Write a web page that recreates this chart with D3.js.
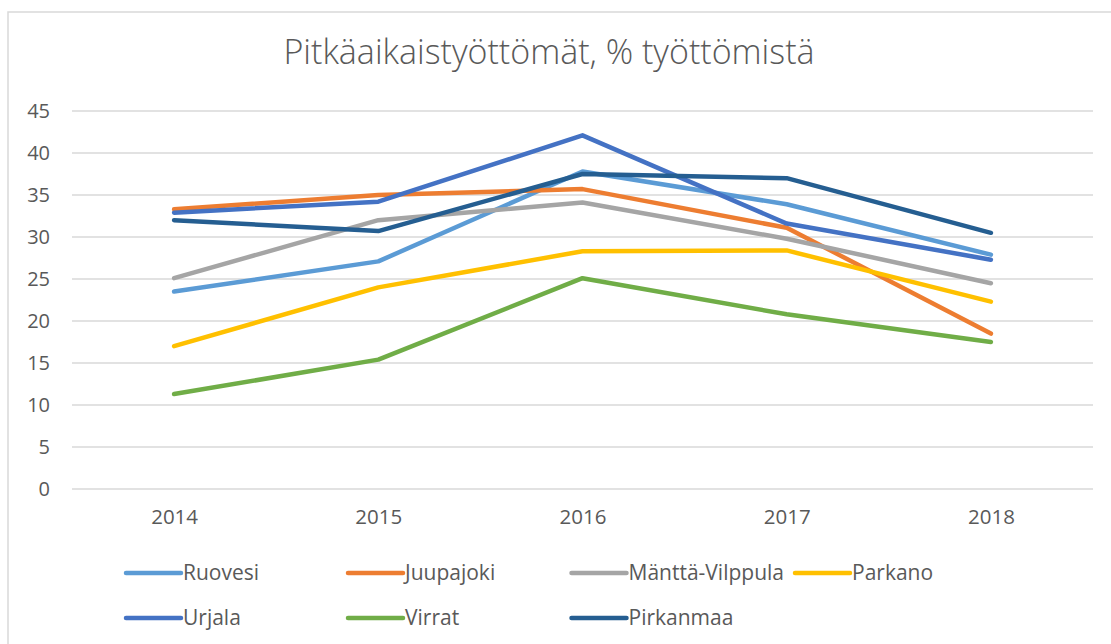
<!DOCTYPE html>
<html><head><meta charset="utf-8">
<script src="https://cdn.jsdelivr.net/npm/d3@7"></script>
<style>body{margin:0;background:#fff}svg{display:block}text{font-family:"Open Sans",sans-serif;fill:#595959}</style>
</head><body>
<svg id="c" width="1111" height="644"></svg>
<script>
const years = ["2014","2015","2016","2017","2018"];
const seriesNames = ["Ruovesi","Juupajoki","Mänttä-Vilppula","Parkano","Urjala","Virrat","Pirkanmaa"];
const ruovesi = [23.5, 27.1, 37.8, 33.9, 27.9];
const juupajoki = [33.3, 35.0, 35.7, 31.1, 18.5];
const manttaVilppula = [25.1, 32.0, 34.1, 29.8, 24.5];
const parkano = [17.0, 24.0, 28.3, 28.4, 22.3];
const urjala = [32.9, 34.2, 42.1, 31.6, 27.3];
const virrat = [11.3, 15.4, 25.1, 20.8, 17.5];
const pirkanmaa = [32.0, 30.7, 37.5, 37.0, 30.5];
const yTicks = [0,5,10,15,20,25,30,35,40,45];
const colors = ["#5B9BD5","#ED7D31","#A5A5A5","#FFC000","#4472C4","#70AD47","#255E91"];
const title = "Pitkäaikaistyöttömät, % työttömistä";

const data = [ruovesi, juupajoki, manttaVilppula, parkano, urjala, virrat, pirkanmaa];
const svg = d3.select("#c");

// chart border
svg.append("rect").attr("x",8).attr("y",12).attr("width",1200).attr("height",700)
  .attr("fill","none").attr("stroke","#d9d9d9").attr("stroke-width",1.5);

svg.append("text").attr("x",549).attr("y",64).attr("text-anchor","middle")
  .style("font-size","34px").style("font-weight",300).text(title);

const pLeft = 72, pRight = 1093, pTop = 111, pBottom = 489;
const x = d3.scalePoint().domain(years).range([pLeft, pRight]).padding(0.5);
const y = d3.scaleLinear().domain([0,45]).range([pBottom, pTop]);

// gridlines
svg.append("g").selectAll("line").data(yTicks).join("line")
  .attr("x1",pLeft).attr("x2",pRight).attr("y1",d=>y(d)).attr("y2",d=>y(d))
  .attr("stroke","#d9d9d9").attr("stroke-width",1.3);

// y axis labels
const ya = svg.append("g").attr("transform",`translate(${pLeft},0)`)
  .call(d3.axisLeft(y).tickValues(yTicks).tickSize(0).tickPadding(22));
ya.select(".domain").remove();
ya.selectAll("text").style("font-size","20px").style("fill","#595959").style("font-family","\"Open Sans\",sans-serif");

// x axis labels
const xa = svg.append("g").attr("transform",`translate(0,${pBottom})`)
  .call(d3.axisBottom(x).tickSize(0).tickPadding(20));
xa.select(".domain").remove();
xa.selectAll("text").style("font-size","20.5px").style("fill","#595959").style("font-family","\"Open Sans\",sans-serif");

const line = d3.line().x((d,i)=>x(years[i])).y(d=>y(d));
svg.append("g").selectAll("path").data(data).join("path")
  .attr("d", d=>line(d)).attr("fill","none")
  .attr("stroke",(d,i)=>colors[i]).attr("stroke-width",4.5)
  .attr("stroke-linecap","round").attr("stroke-linejoin","round");

// legend
const legX = [126, 348, 571.5, 795];
const legY = [573, 618];
const lg = svg.append("g").selectAll("g").data(seriesNames).join("g")
  .attr("transform",(d,i)=>{
    const row = i < 4 ? 0 : 1;
    const col = i < 4 ? i : i - 4;
    return `translate(${legX[col]},${legY[row]})`;
  });
lg.append("line").attr("x1",0).attr("x2",55).attr("y1",0).attr("y2",0)
  .attr("stroke",(d,i)=>colors[i]).attr("stroke-width",4.5).attr("stroke-linecap","round");
lg.append("text").attr("x",57).attr("y",0).attr("dy","0.35em")
  .style("font-size","21px").text(d=>d);
</script>
</body></html>
